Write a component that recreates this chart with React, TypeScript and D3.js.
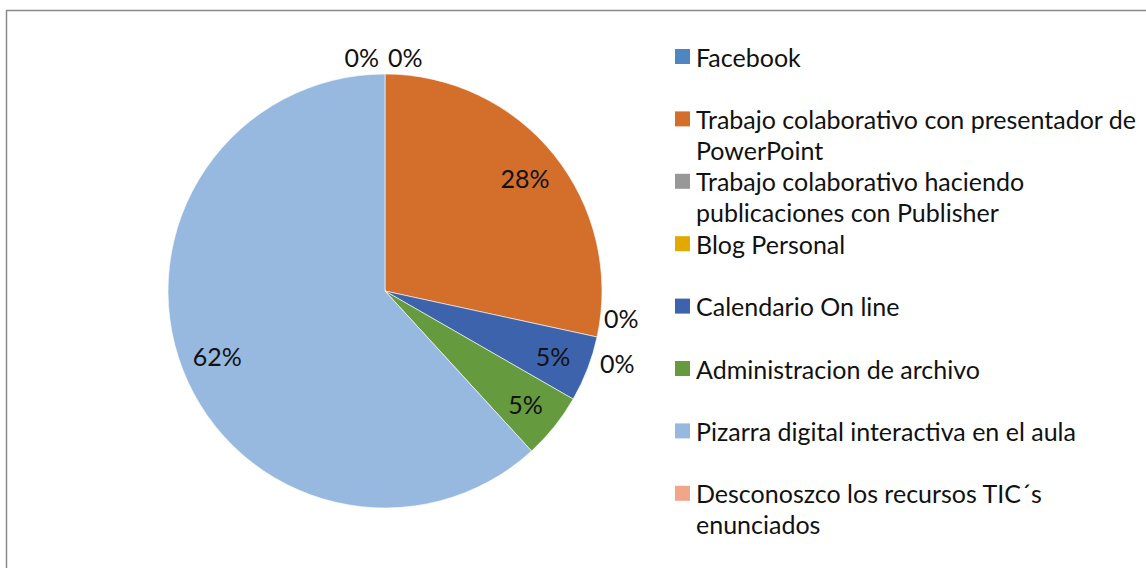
import React from "react";
import * as d3 from "d3";

const categories = [
  "Facebook",
  "Trabajo colaborativo con presentador de PowerPoint",
  "Trabajo colaborativo haciendo publicaciones con Publisher",
  "Blog Personal",
  "Calendario On line",
  "Administracion de archivo",
  "Pizarra digital interactiva en el aula",
  "Desconoszco los recursos TIC´s enunciados",
];
const legendLines = [
  ["Facebook"],
  ["Trabajo colaborativo con presentador de", "PowerPoint"],
  ["Trabajo colaborativo haciendo", "publicaciones con Publisher"],
  ["Blog Personal"],
  ["Calendario On line"],
  ["Administracion de archivo"],
  ["Pizarra digital interactiva en el aula"],
  ["Desconoszco los recursos TIC´s", "enunciados"],
];
const values = [0, 28.4, 0, 0, 4.9, 4.9, 61.8, 0];
const colors = [
  "#4f86c0",
  "#d36e2b",
  "#989898",
  "#e2aa00",
  "#3e63ad",
  "#659a3f",
  "#97b9e0",
  "#f1a68a",
];

const W = 1146;
const H = 568;
const FONT = "Lato, 'Open Sans', sans-serif";
const FS = 25;

export default function App() {
  const cx = 385;
  const cy = 291;
  const R = 217;
  const total = d3.sum(values);
  const pie = d3
    .pie<number>()
    .sort(null)
    .value((d) => d)
    .startAngle(0)
    .endAngle(2 * Math.PI);
  const arcs = pie(values);
  const arcGen = d3.arc<d3.PieArcDatum<number>>().innerRadius(0).outerRadius(R);
  const labelR = 180;

  const zeroGroups: Record<string, number[]> = {};
  arcs.forEach((a, i) => {
    if (a.data === 0) {
      const key = (Math.round(((a.startAngle % (2 * Math.PI)) * 1000)) / 1000).toString();
      (zeroGroups[key] = zeroGroups[key] || []).push(i);
    }
  });

  const labels = arcs.map((a, i) => {
    const txt = Math.round((a.data / total) * 100) + "%";
    if (a.data > 0) {
      const m = (a.startAngle + a.endAngle) / 2;
      return {
        x: cx + labelR * Math.sin(m),
        y: cy - labelR * Math.cos(m),
        anchor: "middle",
        txt,
      };
    }
    const ang = a.startAngle;
    const rr = R + 8;
    const px = cx + rr * Math.sin(ang);
    const py = cy - rr * Math.cos(ang);
    const nearTop = Math.abs(Math.cos(ang)) > 0.95 && Math.cos(ang) > 0;
    if (nearTop) {
      const right = ang < Math.PI;
      return {
        x: right ? px + 3 : px - 6,
        y: py - 9,
        anchor: right ? "start" : "end",
        txt,
      };
    }
    const key = (Math.round(((a.startAngle % (2 * Math.PI)) * 1000)) / 1000).toString();
    const grp = zeroGroups[key];
    const k = grp.indexOf(i);
    const n = grp.length;
    const off = (k - (n - 1) / 2) * 45;
    return {
      x: px - 1 - k * 4,
      y: py + off + 2,
      anchor: "start",
      txt,
    };
  });

  const legX = 675;
  const legY0 = 49;
  const legStep = 62.4;
  const sq = 15;

  return (
    <svg
      width={W}
      height={H}
      style={{ position: "absolute", left: 0, top: 0, background: "#fff" }}
      fontFamily={FONT}
    >
      <rect x={0} y={0} width={W} height={H} fill="#fff" />
      <rect
        x={6.5}
        y={10.5}
        width={W + 50}
        height={H + 50}
        fill="none"
        stroke="#8a8a8a"
        strokeWidth={1.5}
      />
      <g transform={`translate(${cx},${cy})`}>
        {arcs.map((a, i) =>
          a.data > 0 ? (
            <path key={i} d={arcGen(a) || ""} fill={colors[i]} stroke="#fff" strokeWidth={0.6} />
          ) : null
        )}
      </g>
      {labels.map((l, i) => (
        <text
          key={i}
          x={l.x}
          y={l.y}
          textAnchor={l.anchor as any}
          dominantBaseline="central"
          fontSize={FS}
          fill="#111"
        >
          {l.txt}
        </text>
      ))}
      {categories.map((c, i) => {
        const y = legY0 + i * legStep;
        return (
          <g key={c}>
            <rect x={legX} y={y} width={sq} height={sq} fill={colors[i]} />
            {legendLines[i].map((ln, j) => (
              <text
                key={j}
                x={legX + 21}
                y={y + sq / 2 + j * 31}
                dominantBaseline="central"
                fontSize={FS}
                fill="#111"
              >
                {ln}
              </text>
            ))}
          </g>
        );
      })}
    </svg>
  );
}
